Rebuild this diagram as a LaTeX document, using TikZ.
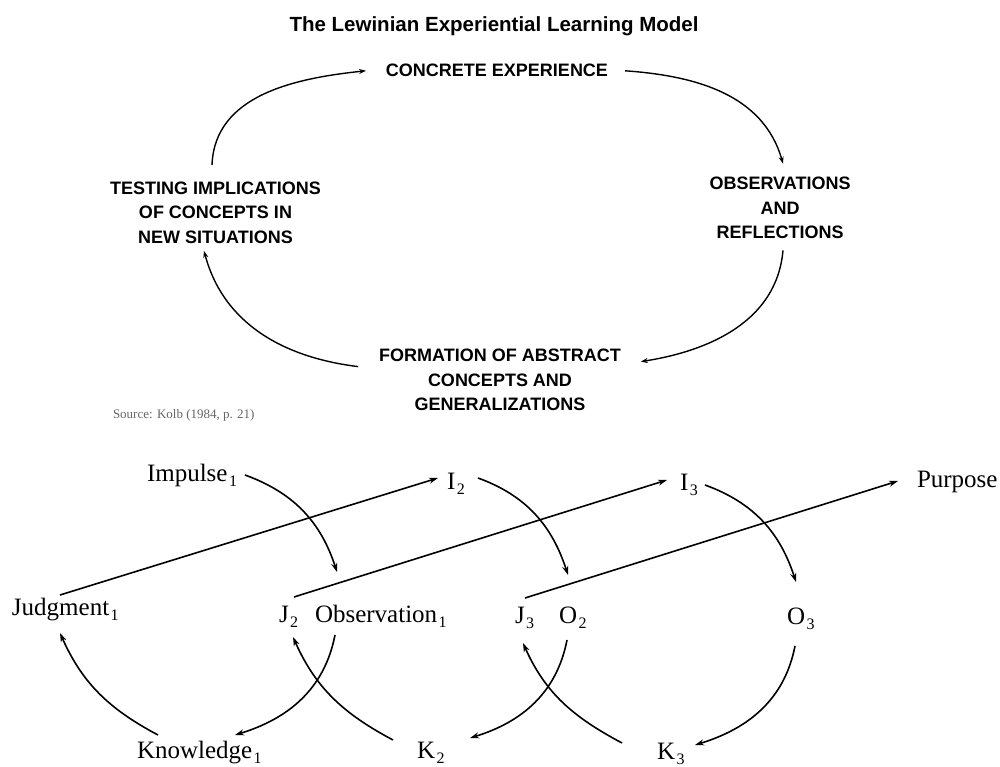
\documentclass[tikz,border=0pt]{standalone}
\usepackage{fontspec}
\setmainfont{Liberation Serif}
\newfontfamily\hv{Liberation Sans}
\usetikzlibrary{arrows.meta}
\newcommand\sbs[1]{\kern1.5pt\raisebox{-4.5pt}{\fontsize{16}{16}\selectfont #1}}
\begin{document}
\begin{tikzpicture}[x=1pt,y=1pt,
  every node/.style={inner sep=0pt,outer sep=0pt},
  lab/.style={font=\fontsize{25}{30}\selectfont,anchor=base west},
  capt/.style={font=\hv\bfseries\fontsize{18}{24.5}\selectfont,align=center},
  arr/.style={line width=1.6pt,-{Stealth[length=9pt,width=6pt]}},
  tarr/.style={line width=1.4pt,-{Stealth[length=7pt,width=5pt]}}]
\fill[white] (0,0) rectangle (1000,767);
\useasboundingbox (0,0) rectangle (1000,767);
% ---------- top: Lewinian model ----------
\node[font=\hv\bfseries\fontsize{20.5}{24}\selectfont,anchor=base] (title) at (494,735) {The Lewinian Experiential Learning Model};
\node[capt,anchor=base] (ce) at (497,690) {CONCRETE EXPERIENCE};
\node[capt] (obs) at (780,559) {OBSERVATIONS\\AND\\REFLECTIONS};
\node[capt] (form) at (500,387) {FORMATION OF ABSTRACT\\CONCEPTS AND\\GENERALIZATIONS};
\node[capt] (test) at (215.5,554.5) {TESTING IMPLICATIONS\\OF CONCEPTS IN\\NEW SITUATIONS};
\node[font=\fontsize{13}{15}\selectfont,text=black!60,anchor=base west] (src) at (113,348) {Source: Kolb (1984, p. 21)};
\draw[tarr] ([shift={(-3.5,16.5)}]test.north) to[out=88,in=186] ([xshift=-20]ce.west);
\draw[tarr] ([xshift=17]ce.east) to[out=-4,in=106] ([shift={(3,13.5)}]obs.north);
\draw[tarr] ([shift={(3,-11.5)}]obs.south) to[out=-95,in=9] ([shift={(20,-12.5)}]form.north east);
\draw[tarr] ([shift={(-21,-17.5)}]form.north west) to[out=173,in=-75] ([shift={(-11.5,-7.5)}]test.south);
% ---------- bottom: Dewey model ----------
\node[lab] (imp) at (147,285) {Impulse\sbs{1}};
\node[lab] (i2) at (447,277) {I\sbs{2}};
\node[lab] (i3) at (680,276) {I\sbs{3}};
\node[lab] (pur) at (917,279) {Purpose};
\node[lab] (jud) at (12,151) {Judgment\sbs{1}};
\node[lab] (j2) at (279,144) {J\sbs{2}};
\node[lab] (obsv) at (315,144) {Observation\sbs{1}};
\node[lab] (j3) at (515,143) {J\sbs{3}};
\node[lab] (o2) at (559,143) {O\sbs{2}};
\node[lab] (o3) at (787,142) {O\sbs{3}};
\node[lab] (kn) at (137,8) {Knowledge\sbs{1}};
\node[lab] (k2) at (417,8) {K\sbs{2}};
\node[lab] (k3) at (657,7) {K\sbs{3}};
% straight arrows
\draw[arr] ([shift={(48,21)}]jud.base west) -- ([shift={(-9,12)}]i2.base west);
\draw[arr] ([shift={(15,26)}]j2.base west) -- ([shift={(-13,11)}]i3.base west);
\draw[arr] ([shift={(10,26)}]j3.base west) -- ([shift={(-19,7)}]pur.base west);
% impulse -> observation arcs
\draw[arr] ([shift={(98,7)}]imp.base west) to[out=-20,in=108] ([shift={(22,51)}]obsv.base west);
\draw[arr] ([shift={(31,12)}]i2.base west) to[out=-20,in=108] ([shift={(9,49)}]o2.base west);
\draw[arr] ([shift={(25,6)}]i3.base west) to[out=-20,in=108] ([shift={(9,43)}]o3.base west);
% observation -> knowledge arcs
\draw[arr] ([shift={(20,-12)}]obsv.base west) to[out=-101,in=17] ([shift={(98,24)}]kn.base west);
\draw[arr] ([shift={(8,-16)}]o2.base west) to[out=-101,in=17] ([shift={(53,21)}]k2.base west);
\draw[arr] ([shift={(8,-21)}]o3.base west) to[out=-101,in=17] ([shift={(38,15)}]k3.base west);
% knowledge -> judgment arcs
\draw[arr] ([shift={(21,24)}]kn.base west) to[out=152,in=-66] ([shift={(48,-17)}]jud.base west);
\draw[arr] ([shift={(-24,19)}]k2.base west) to[out=152,in=-66] ([shift={(14,-14)}]j2.base west);
\draw[arr] ([shift={(-35,17)}]k3.base west) to[out=152,in=-66] ([shift={(8,-19)}]j3.base west);
\end{tikzpicture}
\end{document}
